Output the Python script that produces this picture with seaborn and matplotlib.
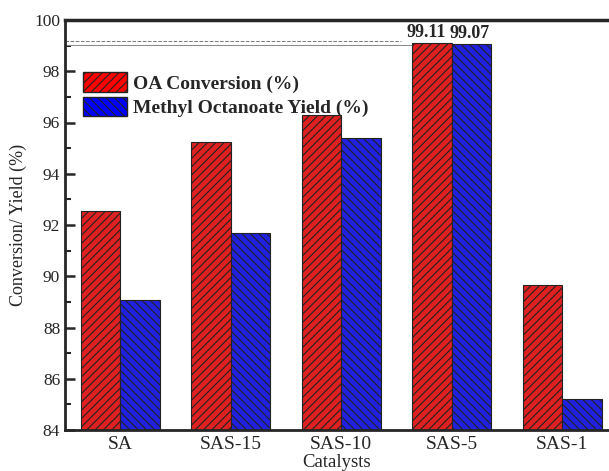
import numpy as np
import pandas as pd
import matplotlib
matplotlib.use('Agg')
import matplotlib.pyplot as plt
import seaborn as sns
from matplotlib.patches import Patch
from matplotlib.ticker import MultipleLocator

# dados
catalisadores = ['SA', 'SAS-15', 'SAS-10', 'SAS-5', 'SAS-1']
conversao_oa = [92.55, 95.22, 96.28, 99.11, 89.65]
rendimento_mo = [89.07, 91.67, 95.39, 99.07, 85.20]
series = ['OA Conversion (%)', 'Methyl Octanoate Yield (%)']

df = pd.DataFrame({
    'Catalyst': catalisadores * 2,
    'Value': conversao_oa + rendimento_mo,
    'Series': [series[0]] * len(catalisadores) + [series[1]] * len(catalisadores),
})

sns.set_style('ticks')
plt.rcParams['font.family'] = ['Liberation Serif', 'DejaVu Serif']
plt.rcParams['hatch.linewidth'] = 0.8
plt.rcParams['hatch.color'] = 'black'

cores = ['#ff0000', '#0000ff']
hachuras = ['////', '\\\\\\\\']

fig = plt.figure(figsize=(6.09, 4.71), dpi=100)
ax = fig.add_axes([65 / 609, 1 - 430 / 471, 1 - 65 / 609, (430 - 20) / 471])

sns.barplot(data=df, x='Catalyst', y='Value', hue='Series', palette=cores,
            width=0.715, edgecolor='#222222', linewidth=0.8, ax=ax, legend=False)

n = len(catalisadores)
for i, p in enumerate(ax.patches):
    p.set_hatch(hachuras[i // n])

# linhas tracejadas de referencia no SAS-5
i5 = catalisadores.index('SAS-5')
bar_red = ax.patches[i5]
bar_blue = ax.patches[n + i5]
ax.hlines(conversao_oa[i5] + 0.06, -0.5, bar_red.get_x() - 0.1, colors='#777777',
          linestyles='--', linewidth=0.7)
ax.hlines(rendimento_mo[i5] - 0.06, -0.5, bar_red.get_x(), colors='#888888',
          linestyles='-', linewidth=0.7)

for bar, val, dx in [(bar_red, conversao_oa[i5], -0.05), (bar_blue, rendimento_mo[i5], -0.02)]:
    ax.text(bar.get_x() + bar.get_width() / 2 + dx, val + 0.08, f'{val:.2f}',
            ha='center', va='bottom', fontsize=13, fontweight='bold')

ax.set_xlim(-0.5, 4.425)
ax.set_ylim(84, 100)
ax.yaxis.set_major_locator(MultipleLocator(2))
ax.yaxis.set_minor_locator(MultipleLocator(1))
ax.tick_params(axis='y', which='major', direction='in', length=7, width=1.8, labelsize=12.5)
ax.tick_params(axis='y', which='minor', direction='in', length=4, width=1.5)
ax.tick_params(axis='x', length=0, labelsize=14, pad=4)

ax.set_xlabel('Catalysts', fontsize=13.5, labelpad=1)
ax.set_ylabel('Conversion/ Yield (%)', fontsize=13, labelpad=5)

for lado in ['left', 'bottom']:
    ax.spines[lado].set_linewidth(2)
ax.spines['top'].set_linewidth(2.5)
ax.spines['top'].set_visible(True)
ax.spines['right'].set_visible(False)

handles = [Patch(facecolor=cores[k], edgecolor='#222222', hatch=hachuras[k], label=series[k])
           for k in range(2)]
ax.legend(handles=handles, loc='upper left', bbox_to_anchor=(0.0, 0.915), frameon=False,
          prop={'weight': 'bold', 'size': 14}, handlelength=2.3, handleheight=1.15,
          handletextpad=0.3, labelspacing=0.2, borderaxespad=0.6, borderpad=0.3)

plt.savefig('out.png', dpi=100)
